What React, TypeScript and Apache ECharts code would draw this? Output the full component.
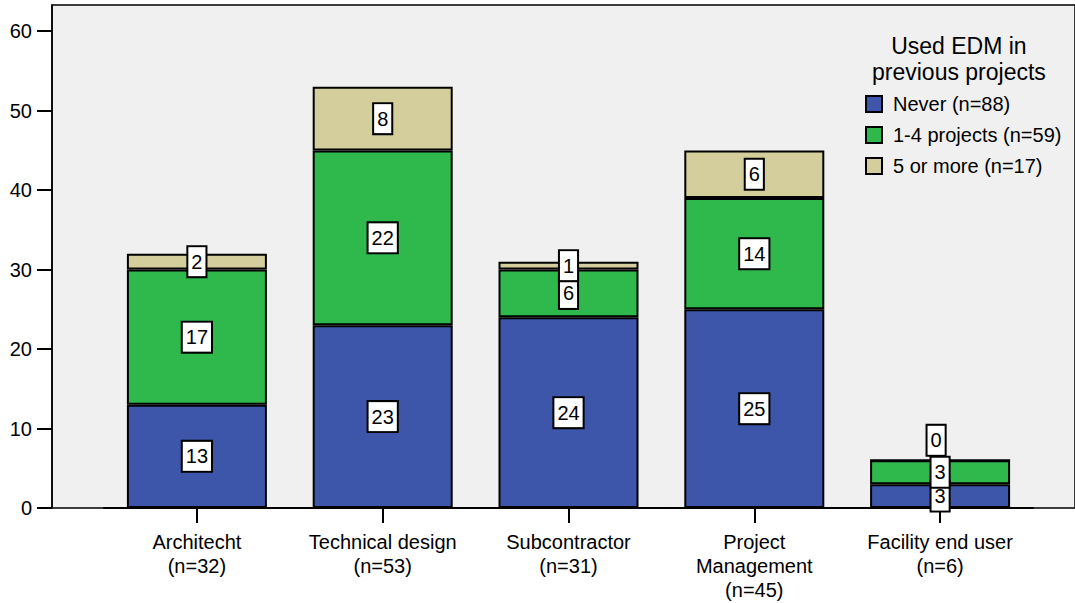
import React, { useEffect, useRef } from "react";
import * as echarts from "echarts";

const categories = [
  "Architecht\n(n=32)",
  "Technical design\n(n=53)",
  "Subcontractor\n(n=31)",
  "Project\nManagement\n(n=45)",
  "Facility end user\n(n=6)",
];
const seriesNames = ["Never (n=88)", "1-4 projects (n=59)", "5 or more (n=17)"];
const never = [13, 23, 24, 25, 3];
const oneToFour = [17, 22, 6, 14, 3];
const fiveOrMore = [2, 8, 1, 6, 0];
const yTicks = [0, 10, 20, 30, 40, 50, 60];
const legendTitle = "Used EDM in\nprevious projects";

const colors = ["#3d56a9", "#2fb84b", "#d3ce9b"];
const FONT = "'Liberation Sans', Arial, sans-serif";

export default function App() {
  const ref = useRef<HTMLDivElement>(null);
  useEffect(() => {
    if (!ref.current) return;
    const chart = echarts.init(ref.current, undefined, { renderer: "svg" });
    const labelStyle = {
      show: true,
      position: "inside",
      color: "#000",
      fontSize: 20,
      fontFamily: FONT,
      backgroundColor: "#fff",
      borderColor: "#000",
      borderWidth: 2,
      padding: [4, 3, 3, 3],
      lineHeight: 22,
    };
    const mk = (name: string, arr: number[], color: string) => ({
      name,
      type: "bar",
      stack: "total",
      xAxisIndex: 1,
      yAxisIndex: 1,
      barWidth: 140,
      itemStyle: { color, borderColor: "#000", borderWidth: 2 },
      label: labelStyle,
      emphasis: { disabled: true },
      data: arr.map((v) => (v === 0 ? { value: v, label: { offset: [-4, -20] } } : v)),
    });
    const yMax = 63.3;
    chart.setOption({
      animation: false,
      textStyle: { fontFamily: FONT },
      grid: [
        {
          left: 52,
          right: -3,
          top: 5,
          bottom: 95,
          show: true,
          backgroundColor: "#f0f0f0",
          borderColor: "#000",
          borderWidth: 1.5,
        },
        { left: 104, right: 42, top: 5, bottom: 95 },
      ],
      xAxis: [
        { type: "value", gridIndex: 0, show: false, min: 0, max: 1 },
        {
          type: "category",
          gridIndex: 1,
          data: categories,
          axisLine: { show: true, lineStyle: { color: "#000", width: 2 } },
          axisTick: { show: true, alignWithLabel: true, length: 15, lineStyle: { color: "#000", width: 2 } },
          axisLabel: {
            color: "#000",
            fontSize: 20,
            fontFamily: FONT,
            margin: 22,
            lineHeight: 24,
            interval: 0,
          },
        },
      ],
      yAxis: [
        {
          type: "value",
          gridIndex: 0,
          min: 0,
          max: yMax,
          axisLine: { show: true, lineStyle: { color: "#000", width: 1.5 } },
          axisTick: { show: true, length: 15, lineStyle: { color: "#000", width: 2 }, customValues: yTicks },
          axisLabel: { color: "#000", fontSize: 20, fontFamily: FONT, margin: 20, customValues: yTicks },
          splitLine: { show: false },
        },
        { type: "value", gridIndex: 1, min: 0, max: yMax, show: false, splitLine: { show: false } },
      ],
      legend: {
        orient: "vertical",
        left: 860,
        top: 89,
        itemWidth: 16,
        itemHeight: 16,
        itemGap: 11,
        icon: "rect",
        textStyle: { color: "#000", fontSize: 20, fontFamily: FONT, padding: [0, 0, 0, 6] },
        data: seriesNames,
      },
      graphic: [
        {
          type: "text",
          left: 967 - 95,
          top: 33,
          style: {
            text: legendTitle,
            fill: "#000",
            font: `23px ${FONT}`,
            textAlign: "center",
            lineHeight: 26,
            x: 95,
          },
        },
      ],
      series: [
        mk(seriesNames[0], never, colors[0]),
        mk(seriesNames[1], oneToFour, colors[1]),
        mk(seriesNames[2], fiveOrMore, colors[2]),
      ],
    });
    return () => chart.dispose();
  }, []);
  return (
    <div
      ref={ref}
      style={{ position: "fixed", left: 0, top: 0, width: 1075, height: 603, background: "#fff" }}
    />
  );
}
